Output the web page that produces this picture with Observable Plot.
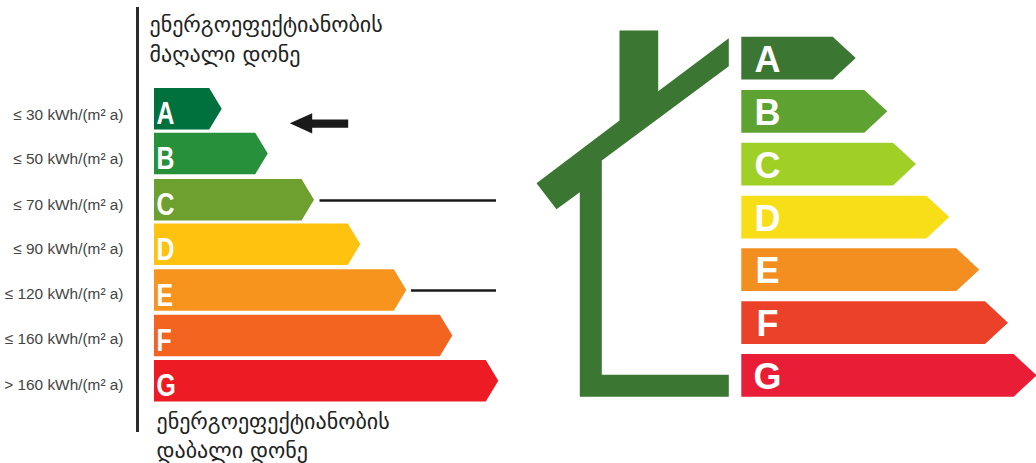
<!DOCTYPE html>
<html>
<head>
<meta charset="utf-8">
<style>html,body{margin:0;padding:0;background:#fff}svg{display:block}</style>
<script src="https://cdn.jsdelivr.net/npm/d3@7"></script>
<script src="https://cdn.jsdelivr.net/npm/@observablehq/plot@0.6"></script>
</head>
<body>
<div id="chart"></div>
<script>
const letters = ["A","B","C","D","E","F","G"];
const kwhLabels = ["≤ 30 kWh/(m² a)","≤ 50 kWh/(m² a)","≤ 70 kWh/(m² a)","≤ 90 kWh/(m² a)","≤ 120 kWh/(m² a)","≤ 160 kWh/(m² a)","> 160 kWh/(m² a)"];
const leftEnds = [221.7,267.7,314,360.3,406.3,452.3,498.3];
const rightEnds = [855.7,887.3,916,949.3,979.3,1008,1036.7];
const leftColors = ["#00703c","#26903b","#6da02e","#ffc20e","#f7941d","#f36421","#ed1c24"];
const rightColors = ["#3b7632","#5ea331","#a0cf25","#f8de17","#f38f20","#ea4128","#e91e36"];
const leftRowTops = [88,132.7,179,223.5,269.3,314.7,360];
const rightRowTops = [36.7,90,142.7,195.7,248.3,301.3,354];
const leftLabelRows = [114.7,159,204.7,249,294,339,385];
const topCaption = ["ენერგოეფექტიანობის","მაღალი დონე"];
const bottomCaption = ["ენერგოეფექტიანობის","დაბალი დონე"];
const houseX = [536,556,579.3,579.3,728.3,728.3,601.3,601.3,728.3,728.3,657.7,657.7,619,619];
const houseY = [182.7,208.7,191.7,396.3,396.3,374.3,374.3,160,65.7,37.7,90.7,30,30,120];
const arrowX = [289.3,311.7,311.7,347.7,347.7,311.7,311.7];
const arrowY = [122.7,112.7,119,119,127.3,127.3,133];
const leaderRows = [{x1:319.5,x2:496,y:200},{x1:411,x2:496,y:290}];

function chevrons(ends, tops, colors, base, h, tip, side) {
  return ends.flatMap((end, i) => [
    {k:side+i, y:tops[i], x1:base, x2:end-tip, c:colors[i]},
    {k:side+i, y:tops[i]+h/2, x1:base, x2:end, c:colors[i]},
    {k:side+i, y:tops[i]+h, x1:base, x2:end-tip, c:colors[i]}
  ]);
}
const leftBars = chevrons(leftEnds, leftRowTops, leftColors, 154, 41.5, 12.5, "L");
const rightBars = chevrons(rightEnds, rightRowTops, rightColors, 741.3, 42.7, 23, "R");
const poly = (xs, ys) => xs.map((x, i) => ({x, y: ys[i]}));
const bar = d => Plot.areaX(d, {x1:"x1", x2:"x2", y:"y", z:"k", fill:"c", curve:"linear"});

const plot = Plot.plot({
  width:1036, height:463,
  margin:0,
  x:{domain:[0,1036], range:[0,1036], axis:null},
  y:{domain:[0,463], range:[0,463], axis:null},
  color:{type:"identity"},
  style:{background:"#fff"},
  marks:[
    bar(leftBars),
    bar(rightBars),
    Plot.line(poly(houseX,houseY), {x:"x", y:"y", fill:"#3b7632", stroke:"none"}),
    Plot.line(poly(arrowX,arrowY), {x:"x", y:"y", fill:"#1a1a1a", stroke:"none"}),
    Plot.ruleX([137], {y1:7, y2:432, stroke:"#2b2b2b", strokeWidth:3}),
    Plot.ruleY(leaderRows, {x1:"x1", x2:"x2", y:"y", stroke:"#1a1a1a", strokeWidth:2.5}),
    Plot.text(kwhLabels, {x:()=>123, y:(d,i)=>leftLabelRows[i], text:d=>d, textAnchor:"end", fontFamily:"Liberation Sans", fontSize:15.4, fill:"#444"}),
    Plot.text(letters, {x:()=>156, y:(d,i)=>leftRowTops[i]+26, text:d=>d, textAnchor:"start", fontFamily:"Liberation Sans", fontWeight:"bold", fontSize:31, fill:"#fff", className:"narrow"}),
    Plot.text(letters, {x:()=>767, y:(d,i)=>rightRowTops[i]+23, text:d=>d, textAnchor:"middle", fontFamily:"Liberation Sans", fontWeight:"bold", fontSize:36, fill:"#fff"}),
    Plot.text(topCaption, {x:()=>149, y:(d,i)=>[24,54][i], text:d=>d, textAnchor:"start", fontFamily:"DejaVu Sans", fontSize:22, fill:"#222"}),
    Plot.text(bottomCaption, {x:()=>156, y:(d,i)=>[421,450][i], text:d=>d, textAnchor:"start", fontFamily:"DejaVu Sans", fontSize:22, fill:"#222"})
  ]
});
plot.querySelectorAll(".narrow text").forEach(t => {
  t.setAttribute("transform", (t.getAttribute("transform") || "") + " scale(0.8,1)");
});
document.getElementById("chart").append(plot);
</script>
</body>
</html>
